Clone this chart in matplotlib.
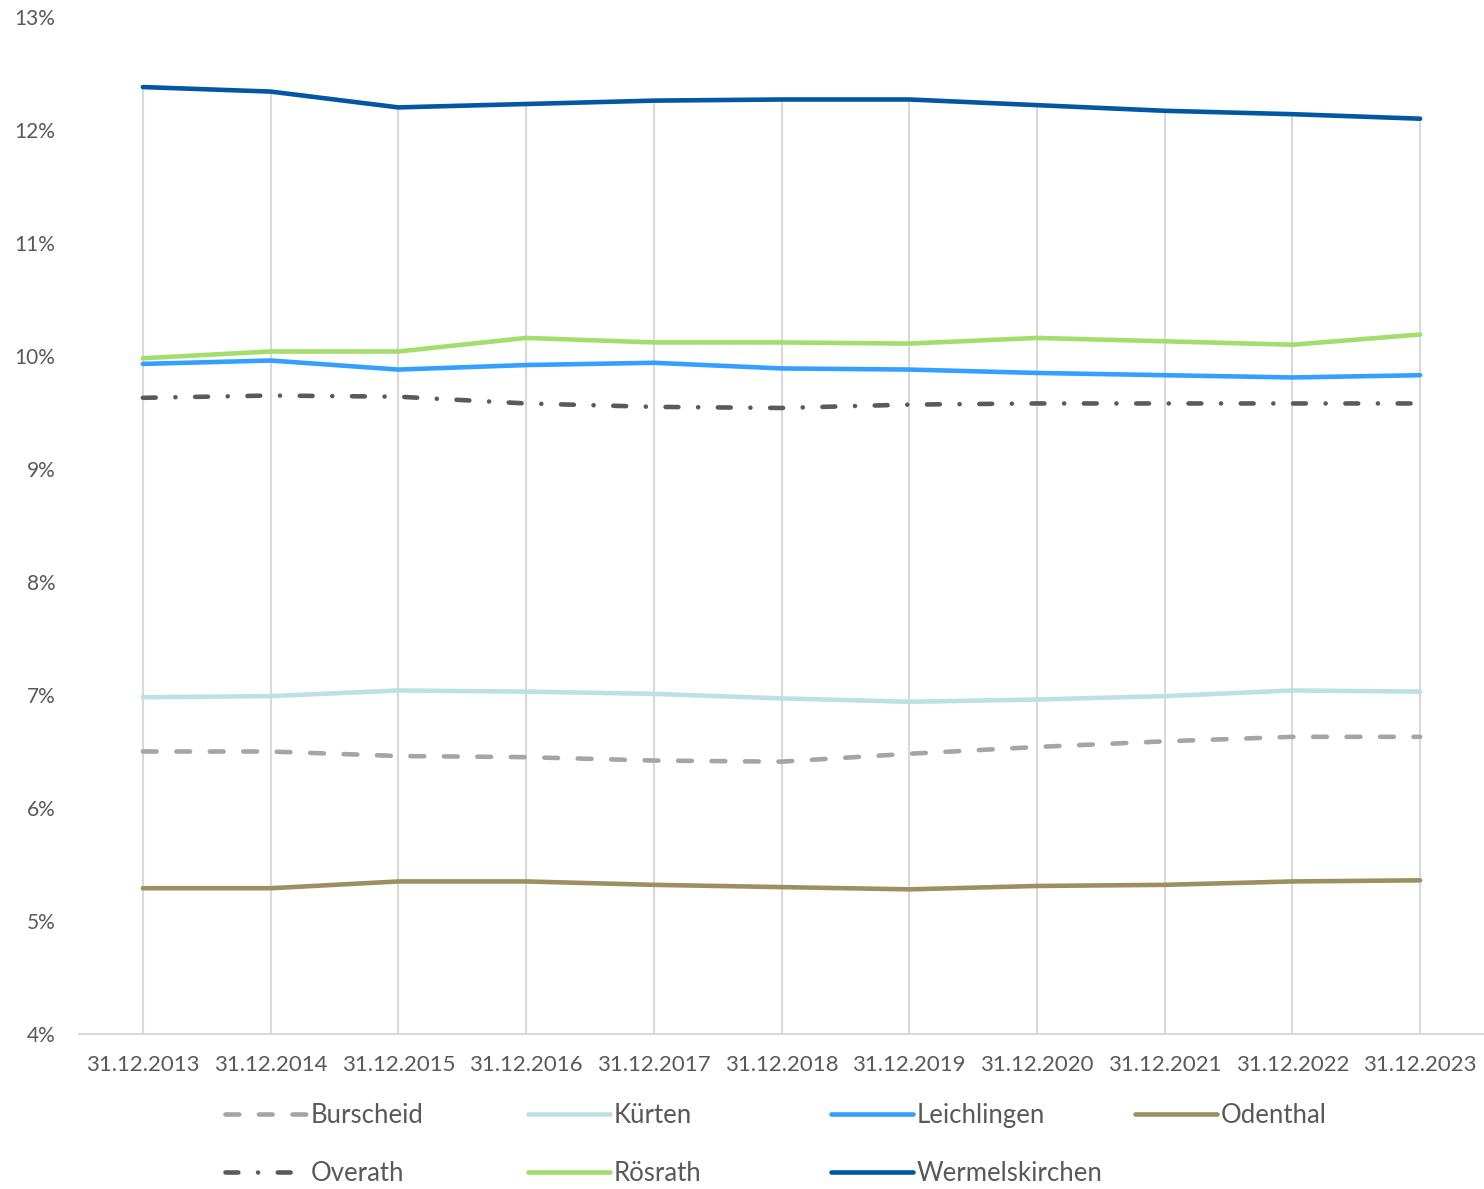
import matplotlib.pyplot as plt
from matplotlib.ticker import FuncFormatter

dates = ["31.12.2013", "31.12.2014", "31.12.2015", "31.12.2016", "31.12.2017", "31.12.2018",
         "31.12.2019", "31.12.2020", "31.12.2021", "31.12.2022", "31.12.2023"]

burscheid = [6.50, 6.50, 6.46, 6.45, 6.42, 6.41, 6.48, 6.54, 6.59, 6.63, 6.63]
kuerten = [6.98, 6.99, 7.04, 7.03, 7.01, 6.97, 6.94, 6.96, 6.99, 7.04, 7.03]
leichlingen = [9.93, 9.96, 9.88, 9.92, 9.94, 9.89, 9.88, 9.85, 9.83, 9.81, 9.83]
odenthal = [5.29, 5.29, 5.35, 5.35, 5.32, 5.30, 5.28, 5.31, 5.32, 5.35, 5.36]
overath = [9.63, 9.65, 9.64, 9.58, 9.55, 9.54, 9.57, 9.58, 9.58, 9.58, 9.58]
roesrath = [9.98, 10.04, 10.04, 10.16, 10.12, 10.12, 10.11, 10.16, 10.13, 10.10, 10.19]
wermelskirchen = [12.38, 12.34, 12.20, 12.23, 12.26, 12.27, 12.27, 12.22, 12.17, 12.14, 12.10]

plt.rcParams['font.family'] = ['Lato', 'DejaVu Sans']
txt = '#595959'

fig = plt.figure(figsize=(14.84, 11.89), dpi=100)
ax = fig.add_axes([79/1484, 1 - 1034/1189, 1 - 79/1484, (1034 - 17)/1189])

x = list(range(len(dates)))
lw = 3.3

# drop lines from the top series down to the axis
tops = [max(v) for v in zip(burscheid, kuerten, leichlingen, odenthal, overath, roesrath, wermelskirchen)]
ax.vlines(x, 4, tops, color='#d9d9d9', lw=1.5, zorder=1)

series = [
    ("Burscheid", burscheid, '#a5a5a5', (0, (3.0, 4.3))),
    ("Kürten", kuerten, '#bde0e4', '-'),
    ("Leichlingen", leichlingen, '#33a0ff', '-'),
    ("Odenthal", odenthal, '#9b9160', '-'),
    ("Overath", overath, '#5a5a5a', (0, (2.8, 4.3, 0.01, 4.3))),
    ("Rösrath", roesrath, '#a3dd6b', '-'),
    ("Wermelskirchen", wermelskirchen, '#0057a3', '-'),
]

handles = []
for name, vals, col, ls in series:
    h, = ax.plot(x, vals, color=col, lw=lw, linestyle=ls, dash_capstyle='round',
                 solid_capstyle='round', label=name, zorder=3)
    handles.append(h)

ax.set_xlim(-0.5, len(dates) - 0.5)
ax.set_ylim(4, 13)
ax.set_yticks(range(4, 14))
ax.yaxis.set_major_formatter(FuncFormatter(lambda v, p: f"{int(v)}%"))
ax.set_xticks(x)
ax.set_xticklabels(dates)
ax.tick_params(axis='both', length=0, labelcolor=txt)
ax.tick_params(axis='y', pad=17, labelsize=15)
ax.tick_params(axis='x', pad=15, labelsize=16)
for s in ['top', 'right', 'left']:
    ax.spines[s].set_visible(False)
ax.spines['bottom'].set_color('#d9d9d9')
ax.spines['bottom'].set_linewidth(1.5)

# legend laid out in four equal columns like the original
col_x = [225, 528, 831, 1135]
cols = [[0, 4], [1, 5], [2, 6], [3]]
for cx, idx in zip(col_x, cols):
    leg = fig.legend([handles[i] for i in idx], [series[i][0] for i in idx],
                     loc='upper left', bbox_to_anchor=(cx / 1484, 1 - 1103 / 1189),
                     frameon=False, fontsize=18.5, handlelength=3.2, handletextpad=0.15,
                     labelspacing=1.3, borderpad=0, borderaxespad=0, labelcolor=txt)

fig.savefig('out.png', dpi=100)
